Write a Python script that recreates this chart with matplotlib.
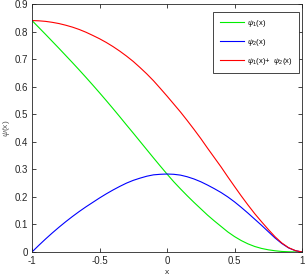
import numpy as np
import matplotlib
matplotlib.use("Agg")
import matplotlib.pyplot as plt

plt.rcParams['font.family'] = ['Liberation Sans', 'DejaVu Sans']
plt.rcParams['mathtext.fontset'] = 'custom'
plt.rcParams['mathtext.rm'] = 'Liberation Sans'
plt.rcParams['mathtext.it'] = 'Liberation Sans:italic'

# values
x = [-1.00, -0.95, -0.90, -0.85, -0.80, -0.75, -0.70, -0.65, -0.60, -0.55, -0.50,
     -0.45, -0.40, -0.35, -0.30, -0.25, -0.20, -0.15, -0.10, -0.05, 0.00,
     0.05, 0.10, 0.15, 0.20, 0.25, 0.30, 0.35, 0.40, 0.45, 0.50,
     0.55, 0.60, 0.65, 0.70, 0.75, 0.80, 0.85, 0.90, 0.95, 1.00]
psi1 = [0.840, 0.815, 0.790, 0.7645, 0.739, 0.713, 0.687, 0.6605, 0.6335, 0.606, 0.578,
        0.5495, 0.5205, 0.491, 0.461, 0.4315, 0.4015, 0.3715, 0.3415, 0.312, 0.283,
        0.255, 0.229, 0.204, 0.180, 0.157, 0.134, 0.113, 0.093, 0.073, 0.056,
        0.0415, 0.0295, 0.020, 0.013, 0.008, 0.0045, 0.002, 0.0008, 0.0002, 0.0]
psi2 = [0.000, 0.024, 0.047, 0.069, 0.090, 0.110, 0.129, 0.147, 0.164, 0.180, 0.196,
        0.211, 0.225, 0.238, 0.250, 0.260, 0.268, 0.275, 0.280, 0.282, 0.283,
        0.282, 0.279, 0.273, 0.265, 0.255, 0.243, 0.230, 0.216, 0.200, 0.182,
        0.162, 0.141, 0.119, 0.097, 0.074, 0.051, 0.031, 0.015, 0.005, 0.0]
psi_sum = [a + b for a, b in zip(psi1, psi2)]

xticks = [-1, -0.5, 0, 0.5, 1]
xticklabels = ["-1", "-0.5", "0", "0.5", "1"]
yticks = [0, 0.1, 0.2, 0.3, 0.4, 0.5, 0.6, 0.7, 0.8, 0.9]
yticklabels = ["0", "0.1", "0.2", "0.3", "0.4", "0.5", "0.6", "0.7", "0.8", "0.9"]

fig = plt.figure(figsize=(3.08, 2.77), dpi=100)
ax = fig.add_axes([32/308, 25/277, 270/308, 248/277])

ax.plot(x, psi1, color="#00ee00", lw=0.8, label=r"$\psi_1$(x)")
ax.plot(x, psi2, color="#0000ff", lw=0.8, label=r"$\psi_2$(x)")
ax.plot(x, psi_sum, color="#ff0000", lw=0.8, label=r"$\psi_1$(x)+  $\psi_2$(x)")

ax.set_xlim(-1, 1)
ax.set_ylim(0, 0.9)
ax.set_xticks(xticks)
ax.set_xticklabels(xticklabels)
ax.set_yticks(yticks)
ax.set_yticklabels(yticklabels)
ax.tick_params(direction="in", top=True, right=True, length=3, width=0.6,
               labelsize=7, colors="#262626", pad=3)
for s in ax.spines.values():
    s.set_linewidth(0.6)
    s.set_color("#262626")

ax.set_xlabel("x", fontsize=6, color="#262626", labelpad=2)
ax.set_ylabel(r"$\psi$(x)", fontsize=6, color="#555555", labelpad=2)

leg = ax.legend(loc="upper right", bbox_to_anchor=(267/270, 240/248),
                fontsize=5.5, fancybox=False, framealpha=1,
                edgecolor="#262626", handlelength=3.2, borderpad=0.8,
                labelspacing=1.05, handletextpad=0.45, borderaxespad=0)
leg.get_frame().set_linewidth(0.6)

fig.savefig("out.png", dpi=100)
